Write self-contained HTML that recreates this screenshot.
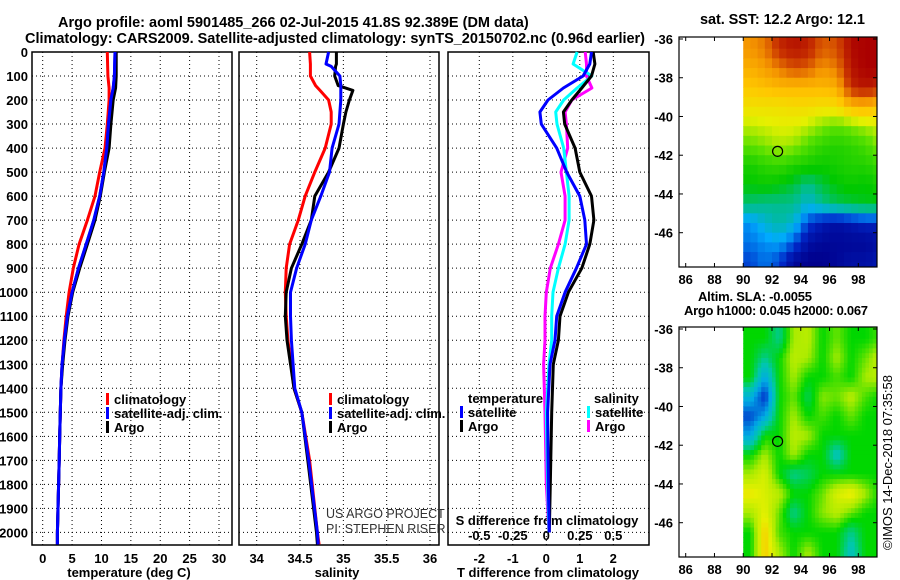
<!DOCTYPE html>
<html><head><meta charset="utf-8"><style>
html,body{margin:0;padding:0;background:#fff;}
svg{display:block;font-family:"Liberation Sans",sans-serif;}
.t{font-weight:bold;font-size:13px;}
.h{font-weight:bold;font-size:14.5px;}
</style></head><body>
<svg id="chart" width="900" height="580" viewBox="0 0 900 580" xmlns="http://www.w3.org/2000/svg">
<text class="h" x="58" y="27">Argo profile: aoml 5901485_266 02-Jul-2015 41.8S 92.389E (DM data)</text>
<text class="h" x="25" y="43" textLength="620">Climatology: CARS2009. Satellite-adjusted climatology: synTS_20150702.nc (0.96d earlier)</text>
<text class="h" x="700" y="24" textLength="165">sat. SST: 12.2 Argo: 12.1</text>
<text class="t" x="698" y="301" textLength="114">Altim. SLA: -0.0055</text>
<text class="t" x="684" y="315" textLength="184">Argo h1000: 0.045 h2000: 0.067</text>
<text transform="translate(892,550) rotate(-90)" style="font-size:13px" textLength="175">©IMOS 14-Dec-2018 07:35:58</text>
<g id="g"></g>
</svg>
<script>
// ---- data ----
const depthTicks=[0,100,200,300,400,500,600,700,800,900,1000,1100,1200,1300,1400,1500,1600,1700,1800,1900,2000];
const tTicks=[0,5,10,15,20,25,30];
const sTicks=[34,34.5,35,35.5,36];
const sTickLabels=["34","34.5","35","35.5","36"];
const dTTicks=[-2,-1,0,1,2];
const dSTicks=[-0.5,-0.25,0,0.25,0.5];
const dSTickLabels=["-0.5","-0.25","0","0.25","0.5"];

const tDepth=[0,100,150,200,300,400,500,600,700,800,900,1000,1100,1200,1300,1400,1500,1600,1700,1800,1900,2000,2050];
const tArgo=[12.5,12.5,12.4,12.0,11.6,11.3,10.5,9.8,8.9,7.6,6.3,5.1,4.3,3.8,3.4,3.1,3.0,2.9,2.8,2.7,2.6,2.5,2.5];
const tSat=[12.3,12.2,12.0,11.6,11.2,10.9,10.4,9.7,8.7,7.4,6.1,5.0,4.2,3.7,3.3,3.1,3.0,2.9,2.8,2.7,2.6,2.5,2.5];
const tClim=[11.0,11.1,11.3,11.3,11.0,10.6,9.7,8.9,7.6,6.2,5.2,4.5,4.0,3.6,3.3,3.1,3.0,2.9,2.8,2.7,2.6,2.5,2.5];

const sDepth=[0,50,60,100,140,160,200,250,300,400,500,600,700,800,900,1000,1100,1200,1400,1500,1700,2000,2050];
const sArgo=[34.92,34.92,34.91,34.90,34.94,35.11,35.07,35.03,35.0,34.95,34.83,34.67,34.63,34.52,34.40,34.34,34.33,34.35,34.43,34.52,34.59,34.69,34.70];
const sSat=[34.83,34.80,34.86,34.96,34.97,34.97,34.97,34.96,34.95,34.87,34.84,34.74,34.63,34.56,34.46,34.39,34.39,34.40,34.44,34.52,34.60,34.70,34.71];
const sClim=[34.61,34.62,34.62,34.62,34.68,34.73,34.83,34.86,34.86,34.79,34.67,34.56,34.48,34.38,34.34,34.33,34.34,34.36,34.43,34.52,34.61,34.70,34.72];

const dDepth=[0,50,100,150,200,250,300,400,500,600,700,800,900,1000,1100,1200,1300,1500,1800,2000];
const dTSat=[1.35,1.3,1.1,0.51,0.05,-0.19,-0.15,0.31,0.61,1.0,1.15,1.2,0.9,0.56,0.31,0.26,0.11,0.04,0.06,0.09];
const dTArgo=[1.4,1.45,1.35,1.06,0.76,0.51,0.55,0.86,1.0,1.35,1.42,1.3,1.06,0.66,0.41,0.36,0.21,0.16,0.12,0.09];
const dSSat=[0.23,0.20,0.34,0.23,0.13,0.07,0.08,0.13,0.15,0.17,0.17,0.14,0.09,0.05,0.04,0.04,0.02,0.0,0.01,0.02];
const dSArgo=[0.29,0.30,0.30,0.34,0.19,0.14,0.15,0.16,0.11,0.14,0.14,0.09,0.03,0.0,-0.01,-0.01,-0.02,-0.01,0.0,0.02];

const lonTicks=[86,88,90,92,94,96,98];
const latTicks=[-36,-38,-40,-42,-44,-46];
const gridLon=[90,91,92,93,94,95,96,97,98,99];
const gridLat=[-36,-37,-38,-39,-40,-41,-42,-43,-44,-45,-46,-47];
const sst=[
[13.8,14.0,14.6,14.8,14.7,14.2,14.3,14.9,15.0,15.0],
[13.5,13.7,14.0,14.3,14.2,13.8,14.0,14.8,15.0,15.0],
[13.2,13.3,13.4,13.4,13.4,13.4,13.5,14.6,14.8,14.6],
[12.8,12.8,12.8,12.9,12.9,12.8,12.9,13.4,13.5,13.2],
[12.3,12.4,12.5,12.5,12.3,12.0,11.8,12.0,12.2,12.4],
[11.8,12.0,12.2,12.1,11.7,11.4,11.3,11.4,11.6,12.0],
[11.2,11.4,11.5,11.3,11.2,11.1,11.2,11.3,11.3,11.5],
[11.0,11.1,11.0,10.8,10.5,10.8,11.0,11.1,11.0,11.2],
[10.6,10.5,10.5,10.5,10.2,10.5,10.7,10.8,10.9,10.9],
[9.9,10.2,10.4,10.2,9.6,9.3,9.2,9.3,9.4,9.4],
[9.8,9.9,10.0,9.7,9.2,9.1,9.1,9.1,9.1,9.2],
[9.6,9.8,9.6,9.1,9.0,9.0,9.1,9.2,9.2,9.3]];
const sla=[
[0,0,-0.05,0.05,0.06,0,0.03,0,0,0.02],
[0,-0.05,0,0.06,0.05,0,0.05,0,0.03,0.07],
[0,-0.12,0,0.05,0,0,0.02,0,0.05,0.06],
[-0.1,-0.2,0,0.03,-0.03,0.04,0.03,0.06,0.02,0],
[-0.18,-0.12,0,0.05,0,0.02,0,0.03,0,0],
[-0.12,0,0,0.06,0.05,0,0,0,0,0],
[0,0.05,0,0.05,0,0,-0.08,0,0,0],
[0.05,0.08,0,-0.05,-0.03,0,0,0,0,0],
[0.1,0.08,0.06,0,0,0.03,0.08,0.1,0.05,0],
[0.05,0.09,0.03,-0.05,0,0.04,0.06,0.03,0,0],
[0,0.12,0.02,0,0,0,0,-0.05,0,0],
[0,0.12,0.05,0,0.05,0,0,-0.08,0,0]];
const argoLon=92.389, argoLat=-41.8;

// ---- helpers ----
const NS="http://www.w3.org/2000/svg";
const G=document.getElementById('g');
function el(tag,attrs,parent){const e=document.createElementNS(NS,tag);for(const k in attrs)e.setAttribute(k,attrs[k]);(parent||G).appendChild(e);return e;}
const Y0=52, Y1=545;
const yD=d=>Y0+d*0.2402;
function lin(d0,d1,r0,r1){return v=>r0+(v-d0)*(r1-r0)/(d1-d0);}
const xT=lin(0,30,42.7,219);
const xS=lin(34,36,256.7,430);
const xDT=lin(-2,2,479.3,613.3);
const xDS=lin(-0.5,0.5,479.3,613.3);

function panel(name,x0,x1,xs,ticks,labels,title,tx){
  const g=el('g',{});
  
  
  depthTicks.forEach(d=>{const y=yD(d);
    const l=el('line',{x1:x0,x2:x1,y1:y,y2:y,stroke:'#000','stroke-width':1,'stroke-dasharray':'1 3'},g);
    });
  ticks.forEach((v,i)=>{const x=xs(v);
    const l=el('line',{x1:x,x2:x,y1:Y0,y2:Y1,stroke:'#000','stroke-width':1,'stroke-dasharray':'1 3'},g);
    
    if(labels){const t=el('text',{x:x,y:563,'text-anchor':'middle',class:'t'},g);t.textContent=labels[i];
      }});
  const r=el('rect',{x:x0,y:Y0,width:x1-x0,height:Y1-Y0,fill:'none',stroke:'#000','stroke-width':1.5},g);
  
  const t=el('text',{x:tx,y:577,'text-anchor':'middle',class:'t'},g);t.textContent=title;
  
}
function line(xs,vals,depths,color,name){
  const pts=vals.map((v,i)=>xs(v).toFixed(1)+','+yD(depths[i]).toFixed(1)).join(' ');
  const p=el('polyline',{points:pts,fill:'none',stroke:color,'stroke-width':3,'stroke-linejoin':'round'});
  
}
function legend(x,y,color,label,name){
  const r=el('rect',{x:x,y:y-11,width:3,height:12,fill:color});
  
  const t=el('text',{x:x+8,y:y,class:'t'});t.textContent=label;
  
}
depthTicks.forEach(d=>{const t=el('text',{x:28,y:yD(d)+5,'text-anchor':'end',class:'t'});t.textContent=d;
  });

panel('temperature-panel',32,232,xT,tTicks,tTicks,'temperature (deg C)',129);
panel('salinity-panel',239,439,xS,sTicks,sTickLabels,'salinity',337);
panel('difference-panel',448,649,xDT,dTTicks,dTTicks,'T difference from climatology',548);
dSTicks.forEach((v,i)=>{const t=el('text',{x:xDS(v),y:540,'text-anchor':'middle',class:'t'});t.textContent=dSTickLabels[i];
  });
{const t=el('text',{x:547,y:525,'text-anchor':'middle',class:'t'});t.textContent='S difference from climatology';
 }

line(xT,tClim,tDepth,'#f00','temp-climatology-line');
line(xT,tSat,tDepth,'#00f','temp-satellite-line');
line(xT,tArgo,tDepth,'#000','temp-argo-line');
line(xT,tSat,tDepth,'#00f','temp-satellite-line-top');
line(xS,sClim,sDepth,'#f00','sal-climatology-line');
line(xS,sArgo,sDepth,'#000','sal-argo-line');
line(xS,sSat,sDepth,'#00f','sal-satellite-line');
line(xDS,dSArgo,dDepth,'#f0f','s-diff-argo-line');
line(xDS,dSSat,dDepth,'#0ff','s-diff-satellite-line');
line(xDT,dTArgo,dDepth,'#000','t-diff-argo-line');
line(xDT,dTSat,dDepth,'#00f','t-diff-satellite-line');

legend(106,404,'#f00','climatology','temp-legend-climatology');
legend(106,418,'#00f','satellite-adj. clim.','temp-legend-satellite');
legend(106,432,'#000','Argo','temp-legend-argo');
legend(329,404,'#f00','climatology','sal-legend-climatology');
legend(329,418,'#00f','satellite-adj. clim.','sal-legend-satellite');
legend(329,432,'#000','Argo','sal-legend-argo');
{const t=el('text',{x:468,y:403,class:'t'});t.textContent='temperature';}
{const t=el('text',{x:594,y:403,class:'t'});t.textContent='salinity';}
legend(460,417,'#00f','satellite','diff-legend-temp-satellite');
legend(460,431,'#000','Argo','diff-legend-temp-argo');
legend(587,417,'#0ff','satellite','diff-legend-sal-satellite');
legend(587,431,'#f0f','Argo','diff-legend-sal-argo');
[['US ARGO PROJECT',518],['PI: STEPHEN RISER',533]].forEach(a=>{const t=el('text',{x:326,y:a[1],'font-size':'12.5px',fill:'#333'});t.textContent=a[0];
  });

// ---- maps ----
function colorOf(stops,v){
  if(v<=stops[0][0])return 'rgb('+stops[0][1].join(',')+')';
  for(let i=1;i<stops.length;i++){if(v<=stops[i][0]){const a=stops[i-1],b=stops[i],f=(v-a[0])/(b[0]-a[0]);
    return 'rgb('+a[1].map((c,k)=>Math.round(c+(b[1][k]-c)*f)).join(',')+')';}}
  return 'rgb('+stops[stops.length-1][1].join(',')+')';
}
const sstStops=[[9,[0,0,140]],[9.5,[0,40,200]],[10,[0,170,255]],[10.5,[0,190,140]],[11,[0,200,0]],[11.8,[90,225,0]],[12.5,[230,240,0]],[13.2,[255,200,0]],[13.8,[245,150,0]],[14.5,[200,50,0]],[15,[170,0,0]]];
const slaStops=[[-0.2,[0,40,200]],[-0.12,[0,170,230]],[-0.06,[0,200,170]],[0,[0,215,0]],[0.05,[170,235,0]],[0.09,[230,240,0]],[0.13,[255,190,0]]];

function sample(grid,fr,fc){ // bilinear lookup by fractional row/col
  const R=grid.length-1,C=grid[0].length-1;
  fr=Math.max(0,Math.min(R,fr));fc=Math.max(0,Math.min(C,fc));
  const r0=Math.floor(fr),c0=Math.floor(fc),r1=Math.min(R,r0+1),c1=Math.min(C,c0+1),a=fr-r0,b=fc-c0;
  return grid[r0][c0]*(1-a)*(1-b)+grid[r0][c1]*(1-a)*b+grid[r1][c0]*a*(1-b)+grid[r1][c1]*a*b;
}
function map(name,top,bottom,grid,stops,sub){
  const x0=679,x1=877;
  const xL=lin(86,98,685.7,858.3);
  const yL=lin(-36,-46,top+2,top+195.7);
  const g=el('g',{});
  const cp=el('clipPath',{id:name+'-clip'},g);el('rect',{x:x0,y:top,width:x1-x0,height:bottom-top},cp);
  const cells=el('g',{'clip-path':'url(#'+name+'-clip)'},g);
  grid.forEach((row,r)=>row.forEach((v,c)=>{
    for(let i=0;i<sub;i++)for(let j=0;j<sub;j++){
      const la=gridLat[r]-i/sub, lo=gridLon[c]+j/sub;
      const xa=xL(lo),xb=xL(lo+1/sub),ya=(r===0&&i===0)?top:yL(la),yb=yL(la-1/sub);
      const val=sub>1?sample(grid,r+(i+0.5)/sub-0.5,c+(j+0.5)/sub-0.5):v;
      const rc=el('rect',{x:xa,y:ya,width:xb-xa+0.5,height:yb-ya+0.5,fill:colorOf(stops,val)},cells);
      
    }}));
  const fr=el('rect',{x:x0,y:top,width:x1-x0,height:bottom-top,fill:'none',stroke:'#000','stroke-width':1.2},g);
  
  lonTicks.forEach(v=>{const x=xL(v);el('line',{x1:x,x2:x,y1:bottom,y2:bottom-4,stroke:'#000'},g);el('line',{x1:x,x2:x,y1:top,y2:top+4,stroke:'#000'},g);
    const t=el('text',{x:x,y:bottom+17,'text-anchor':'middle',class:'t'},g);t.textContent=v;
    });
  latTicks.forEach(v=>{const y=yL(v);el('line',{x1:x0,x2:x0+4,y1:y,y2:y,stroke:'#000'},g);el('line',{x1:x1,x2:x1-4,y1:y,y2:y,stroke:'#000'},g);
    const t=el('text',{x:673,y:y+5,'text-anchor':'end',class:'t'},g);t.textContent=v;
    });
  const c=el('circle',{cx:xL(argoLon),cy:yL(argoLat),r:5,fill:'none',stroke:'#000','stroke-width':1.2},g);
  
}
map('sst-map',37,267,sst,sstStops,2);
map('sla-map',327,557,sla,slaStops,4);
</script>
</body></html>
